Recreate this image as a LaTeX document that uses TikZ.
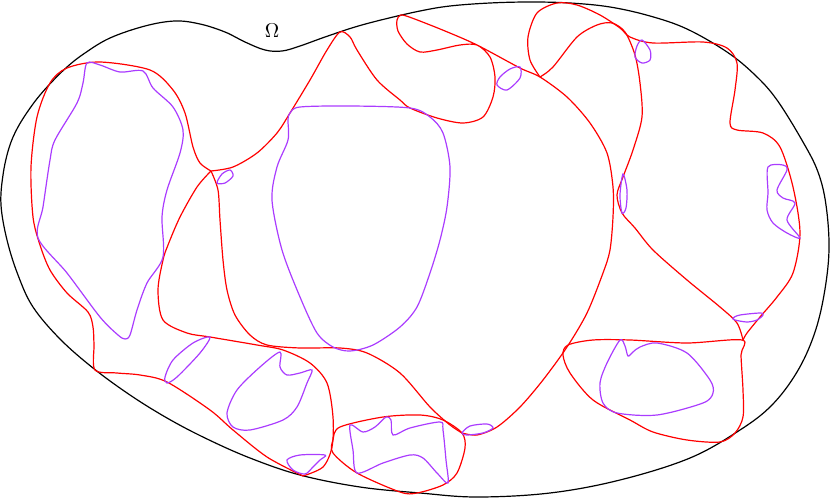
\documentclass[tikz,border=0pt]{standalone}
\definecolor{lilac}{RGB}{170,60,255}
\begin{document}
\begin{tikzpicture}[x=.5pt,y=-.5pt,line width=.6pt]
\useasboundingbox (0,0) rectangle (831,498);
% the domain
\draw plot[smooth cycle, tension=.6] coordinates {(1,205) (7,240) (18,275) (33,307) (60,339) (93,368) (130,395) (167,418) (205,438) (250,458) (300,475) (360,487) (420,493) (477,497) (550,493) (620,480) (690,458) (740,430) (772,405) (797,372) (814,335) (824,295) (829,250) (826,205) (818,172) (803,142) (777,100) (755,75) (727,52) (687,29) (650,16) (610,7) (570,3) (530,2) (490,3) (450,6) (420,11) (385,19) (355,27) (325,37) (300,46) (282,51) (265,50) (245,42) (225,32) (200,24) (175,21) (145,26) (110,38) (85,53) (67,67) (48,86) (33,104) (18,127) (9,148) (3,175)};
\node (omega) at (272,31) {$\Omega$};
% red cells
\draw [red] plot[smooth] coordinates {(211,171) (200,163) (193,147) (185,113) (173,90) (150,70) (100,62) (67,68) (50,83) (37,117) (31,167) (33,217) (40,245) (50,270) (67,293) (88,312) (93,327) (94,345) (95,370) (117,373) (140,375) (167,382) (210,410) (233,430) (267,457) (303,476)};
\draw [red] plot[smooth] coordinates {(303,476) (323,467) (332,447) (333,417) (327,383) (310,363) (283,350) (257,345) (210,337) (187,333) (163,320) (158,290) (163,260) (168,245) (180,217) (197,187) (211,171)};
\draw [red] plot[smooth] coordinates {(211,171) (233,167) (257,153) (277,133) (290,113) (310,80) (327,50) (340,32) (350,37) (357,50) (377,80) (400,100) (410,108) (437,118) (463,123) (483,117) (493,97) (495,77) (490,57) (477,45) (460,45) (437,50) (420,52) (407,44) (398,31) (397,20) (401,15) (412,18) (445,31) (477,45) (520,68) (540,77) (567,97) (590,123) (607,153) (613,187) (613,217) (610,250) (603,273) (587,313) (567,347) (543,380) (520,407) (497,427) (477,435) (462,433)};
\draw [red] plot[smooth] coordinates {(211,171) (218,190) (220,220) (223,260) (227,290) (235,315) (250,335) (267,345) (300,348) (340,348) (367,353) (400,373) (430,407) (450,425) (462,433)};
\draw [red] plot[smooth cycle] coordinates {(333,440) (340,427) (383,417) (420,415) (443,420) (462,433) (465,448) (457,473) (443,485) (417,493) (400,492) (357,473) (333,453)};
\draw [red] plot[smooth] coordinates {(540,77) (530,60) (528,37) (537,13) (557,3) (577,5) (600,15) (620,28) (630,37) (653,43) (703,42) (727,48) (737,63) (735,90) (730,123) (737,130) (763,133) (780,147) (793,187) (800,233) (793,273) (777,297) (760,317) (747,333) (743,340)};
\draw [red] plot[smooth] coordinates {(540,77) (553,67) (577,37) (597,25) (612,23) (625,32) (635,55) (640,83) (642,117) (633,150) (623,177) (617,195) (622,213) (635,228) (653,250) (687,280) (720,307) (737,323) (743,340)};
\draw [red] plot[smooth cycle] coordinates {(742,340) (687,343) (630,340) (593,340) (568,345) (563,355) (570,373) (593,400) (630,420) (653,432) (687,440) (720,442) (735,433) (743,417) (743,390) (741,355)};
% purple islands
\draw [lilac] plot[smooth cycle] coordinates {(87,63) (100,65) (120,72) (143,71) (153,88) (173,107) (183,130) (180,153) (167,190) (162,217) (163,257) (147,283) (137,310) (130,335) (125,339) (118,335) (100,317) (67,273) (38,238) (43,207) (50,160) (55,140) (77,103) (83,83)};
\draw [lilac] plot[smooth cycle] coordinates {(217,183) (222,174) (230,170) (233,176) (225,183)};
\draw [lilac] plot[smooth cycle] coordinates {(290,113) (300,107) (350,106) (410,108) (430,117) (443,133) (450,167) (447,207) (440,240) (430,273) (417,307) (400,327) (373,345) (350,351) (333,347) (317,333) (300,297) (282,250) (272,200) (277,167) (288,140) (288,120)};
\draw [lilac] plot[smooth cycle] coordinates {(520,67) (520,78) (507,90) (497,85) (500,77) (510,69)};
\draw [lilac] plot[smooth cycle] coordinates {(642,40) (650,50) (650,60) (642,63) (635,57) (637,46)};
\draw [lilac] plot[smooth cycle] coordinates {(623,174) (627,190) (626,208) (622,213) (620,195)};
\draw [lilac] plot[smooth cycle] coordinates {(768,167) (783,165) (787,170) (777,190) (783,198) (795,203) (787,220) (800,238) (787,233) (773,223) (767,210) (768,193)};
\draw [lilac] plot[smooth cycle] coordinates {(733,318) (740,315) (760,313) (763,315) (757,320) (747,322) (735,320)};
\draw [lilac] plot[smooth cycle] coordinates {(620,340) (625,346) (628,356) (633,352) (640,347) (657,343) (687,353) (710,380) (713,393) (703,403) (657,415) (617,413) (603,403) (600,383) (607,363)};
\draw [lilac] plot[smooth cycle] coordinates {(462,433) (470,426) (487,424) (493,428) (483,433) (467,435)};
\draw [lilac] plot[smooth cycle] coordinates {(350,425) (363,432) (375,427) (386,417) (391,420) (393,435) (410,428) (440,422) (443,430) (446,460) (448,483) (437,473) (423,458) (410,455) (383,463) (357,473) (353,450)};
\draw [lilac] plot[smooth cycle] coordinates {(280,352) (280,367) (287,375) (300,373) (312,370) (307,383) (297,407) (283,420) (250,430) (233,427) (227,413) (237,390) (260,367)};
\draw [lilac] plot[smooth cycle] coordinates {(287,460) (300,455) (325,455) (320,460) (313,467) (305,474) (293,470)};
\draw [lilac] plot[smooth cycle] coordinates {(210,337) (200,353) (177,377) (167,383) (165,377) (173,360) (193,343)};
\end{tikzpicture}
\end{document}
